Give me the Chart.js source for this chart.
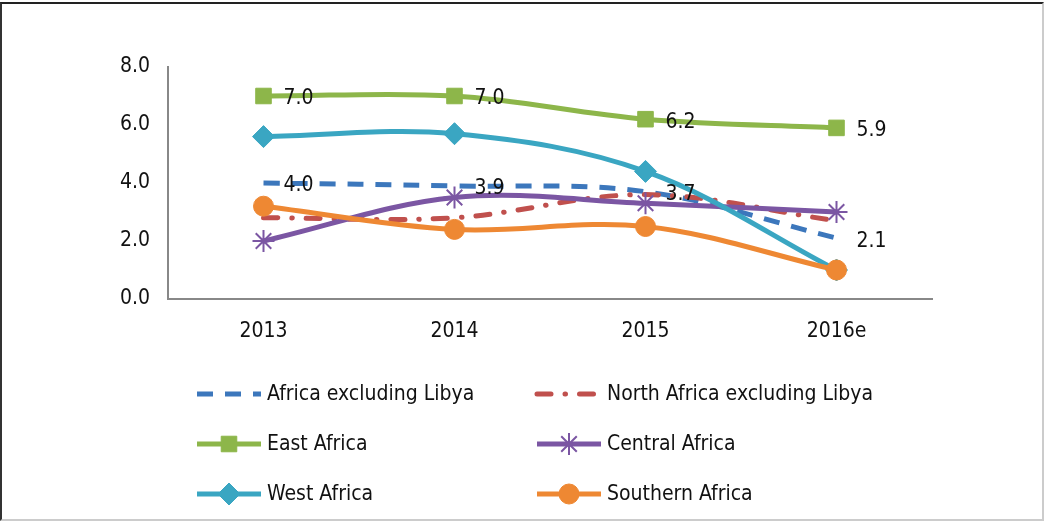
<!DOCTYPE html>
<html>
<head>
<meta charset="utf-8">
<script src="https://cdn.jsdelivr.net/npm/chart.js@4.4.1/dist/chart.umd.min.js"></script>
<style>
  html, body { margin: 0; padding: 0; background: #fff; }
  #wrap {
    position: relative; width: 1044px; box-sizing: border-box;
    border-top: 2px solid #222; border-left: 2px solid #333;
    border-right: 2px solid #ccc; border-bottom: 2px solid #ccc;
    margin-top: 2px; height: 519px;
  }
  canvas { display: block; }
</style>
</head>
<body>
<div id="wrap"><canvas id="growthChart" width="1040" height="515"></canvas></div>
<script>
// Categories and values
var years = ["2013", "2014", "2015", "2016e"];
var africaExLibya = [4.0, 3.9, 3.7, 2.1];
var northAfricaExLibya = [2.8, 2.8, 3.6, 2.7];
var eastAfrica = [7.0, 7.0, 6.2, 5.9];
var centralAfrica = [2.0, 3.5, 3.3, 3.0];
var westAfrica = [5.6, 5.7, 4.4, 1.0];
var southernAfrica = [3.2, 2.4, 2.5, 1.0];
var yTicks = [0, 2, 4, 6, 8];

var FONT = "'Liberation Sans Narrow', 'DejaVu Sans Condensed', 'Arial Narrow', sans-serif";
var FSIZE = 21;

// data labels beside the points (only series that carry them)
var pointLabels = {
  id: 'pointLabels',
  afterDatasetsDraw: function (chart) {
    var ctx = chart.ctx;
    ctx.save();
    ctx.font = FSIZE + "px " + FONT;
    ctx.fillStyle = "#111";
    ctx.textAlign = "left";
    ctx.textBaseline = "middle";
    chart.data.datasets.forEach(function (ds, i) {
      if (!ds.showLabels) return;
      chart.getDatasetMeta(i).data.forEach(function (pt, j) {
        ctx.fillText(ds.data[j].toFixed(1), pt.x + 20, pt.y + 3);
      });
    });
    ctx.restore();
  }
};

// two-column legend under the plot
var gridLegend = {
  id: 'gridLegend',
  afterDraw: function (chart) {
    var ctx = chart.ctx;
    var cols = [195, 535];
    var rows = [390, 440, 490];
    ctx.save();
    chart.data.datasets.forEach(function (ds, i) {
      var x = cols[i % 2], y = rows[Math.floor(i / 2)];
      ctx.save();
      ctx.strokeStyle = ds.borderColor;
      ctx.lineWidth = ds.borderWidth;
      ctx.lineCap = ds.borderCapStyle || 'butt';
      ctx.setLineDash(ds.borderDash || []);
      ctx.beginPath();
      ctx.moveTo(x, y);
      ctx.lineTo(x + 64, y);
      ctx.stroke();
      ctx.restore();
      if (ds.pointRadius > 0) {
        ctx.fillStyle = ds.backgroundColor;
        ctx.strokeStyle = ds.borderColor;
        ctx.lineWidth = ds.pointBorderWidth;
        ctx.setLineDash([]);
        Chart.helpers.drawPoint(ctx, {
          pointStyle: ds.pointStyle, radius: ds.pointRadius, rotation: 0,
          borderWidth: ds.pointBorderWidth
        }, x + 32, y);
      }
      ctx.font = FSIZE + "px " + FONT;
      ctx.fillStyle = "#111";
      ctx.textAlign = "left";
      ctx.textBaseline = "middle";
      ctx.fillText(ds.label, x + 70, y + 1);
    });
    ctx.restore();
  }
};

var ctxL = document.getElementById("growthChart").getContext('2d');
var growthChart = new Chart(ctxL, {
  type: 'line',
  plugins: [pointLabels, gridLegend],
  data: {
    labels: years,
    datasets: [
      {
        label: "Africa excluding Libya", data: africaExLibya, order: 6,
        borderColor: '#3C77BC', backgroundColor: '#3C77BC', borderWidth: 5,
        borderDash: [16, 12], pointRadius: 0, showLabels: true
      },
      {
        label: "North Africa excluding Libya", data: northAfricaExLibya, order: 5,
        borderColor: '#C0504D', backgroundColor: '#C0504D', borderWidth: 5,
        borderDash: [14, 14, 0.5, 14], borderCapStyle: 'round', pointRadius: 0
      },
      {
        label: "East Africa", data: eastAfrica, order: 4,
        borderColor: '#8DB64A', backgroundColor: '#8DB64A', borderWidth: 5,
        pointStyle: 'rect', pointRadius: 11, pointBorderWidth: 1, showLabels: true
      },
      {
        label: "Central Africa", data: centralAfrica, order: 3,
        borderColor: '#7B56A3', backgroundColor: '#7B56A3', borderWidth: 5,
        pointStyle: 'star', pointRadius: 11, pointBorderWidth: 2
      },
      {
        label: "West Africa", data: westAfrica, order: 2,
        borderColor: '#3AA6C2', backgroundColor: '#3AA6C2', borderWidth: 5,
        pointStyle: 'rectRot', pointRadius: 11, pointBorderWidth: 1
      },
      {
        label: "Southern Africa", data: southernAfrica, order: 1,
        borderColor: '#EE8833', backgroundColor: '#EE8833', borderWidth: 5,
        pointStyle: 'circle', pointRadius: 10, pointBorderWidth: 1
      }
    ]
  },
  options: {
    responsive: false,
    animation: false,
    devicePixelRatio: 1,
    layout: { padding: { left: 0, right: 110, top: 63, bottom: 165 } },
    elements: { line: { tension: 0.35 } },
    plugins: {
      legend: { display: false },
      tooltip: { enabled: false }
    },
    scales: {
      x: {
        offset: true,
        grid: { display: false, drawTicks: false },
        border: { color: '#888', width: 2 },
        ticks: { color: '#111', padding: 20, font: { family: FONT, size: FSIZE } },
        afterFit: function (scale) { scale.height = 55; }
      },
      y: {
        min: 0, max: 8,
        afterBuildTicks: function (scale) {
          scale.ticks = yTicks.map(function (v) { return { value: v }; });
        },
        grid: { display: false, drawTicks: false },
        border: { color: '#888', width: 2 },
        ticks: {
          color: '#111', padding: 18, font: { family: FONT, size: FSIZE },
          callback: function (v) { return Number(v).toFixed(1); }
        },
        afterFit: function (scale) { scale.width = 166; }
      }
    }
  }
});
</script>
</body>
</html>
